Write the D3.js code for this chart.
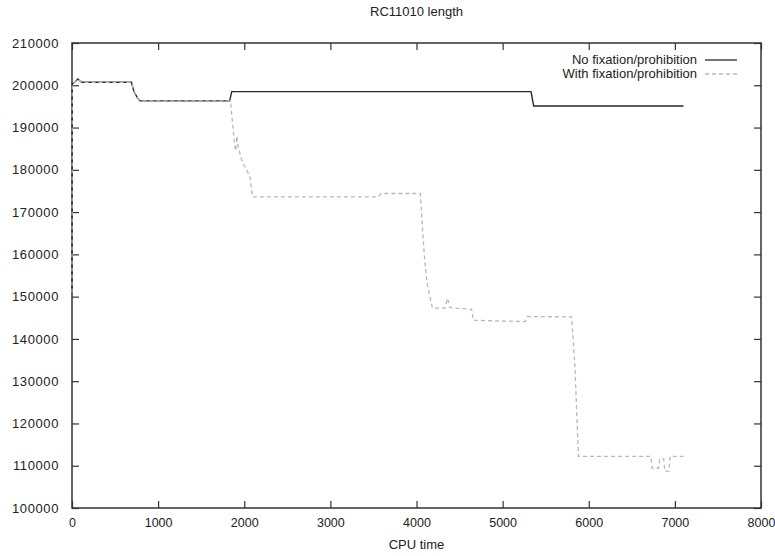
<!DOCTYPE html>
<html>
<head>
<meta charset="utf-8">
<script src="https://cdn.jsdelivr.net/npm/d3@7"></script>
<style>
  body { margin: 0; background: #fff; }
  text { font-family: "Liberation Sans", Arial, sans-serif; fill: #222; }
</style>
</head>
<body>
<div id="chart"></div>
<script>
// No fixation/prohibition
const noFixTime = [0, 3, 30, 70, 110, 690, 720, 760, 790, 1830, 1855, 5330, 5360, 7100];
const noFixLen = [151000, 200300, 200700, 201500, 200700, 200700, 198500, 197000, 196300, 196300, 198500, 198500, 195100, 195100];

// With fixation/prohibition
const withFixTime = [0, 3, 30, 70, 110, 690, 720, 760, 790, 1840, 1855, 1870, 1885, 1900, 1915, 1930, 1960, 2000, 2040, 2070, 2095,
  3555, 3590, 4045, 4070, 4090, 4120, 4150, 4185, 4330, 4360, 4390, 4640, 4660, 5260, 5290,
  5800, 5820, 5840, 5880, 6720, 6735, 6810, 6825, 6870, 6885, 6930, 6945, 7100];
const withFixLen = [151000, 200300, 200700, 201500, 200700, 200700, 198500, 197000, 196300, 196300, 193000, 190000, 186500, 184500, 188000, 185500, 183000, 181000, 179500, 178000, 173600,
  173600, 174400, 174400, 166000, 160000, 153500, 150500, 147300, 147300, 149600, 147400, 147000, 144400, 144100, 145300,
  145200, 139700, 133400, 112200, 112200, 109400, 109400, 111600, 111600, 108700, 108700, 112200, 112200];

const xTicks = [0, 1000, 2000, 3000, 4000, 5000, 6000, 7000, 8000];
const yTicks = [100000, 110000, 120000, 130000, 140000, 150000, 160000, 170000, 180000, 190000, 200000, 210000];

const legendLabels = ["No fixation/prohibition", "With fixation/prohibition"];

const W = 775, H = 556;
const margin = { top: 43, right: 14, bottom: 48, left: 72 },
  width = W - margin.left - margin.right,
  height = H - margin.top - margin.bottom;

const svg = d3.select("#chart").append("svg")
  .attr("width", W)
  .attr("height", H);

const g = svg.append("g")
  .attr("transform", `translate(${margin.left},${margin.top})`);

const x = d3.scaleLinear().domain([0, 8000]).range([0, width]);
const y = d3.scaleLinear().domain([100000, 210000]).range([height, 0]);

// axes, gnuplot style: ticks pointing inward, mirrored
const styleAxis = (sel, size, spacing) => {
  sel.select(".domain").remove();
  sel.selectAll(".tick line").attr("stroke", "#333").attr("stroke-width", 1.2);
  sel.selectAll("text").style("font-size", size).style("letter-spacing", spacing);
};

g.append("g")
  .attr("transform", `translate(0,${height})`)
  .call(d3.axisBottom(x).tickValues(xTicks).tickSizeInner(-7).tickSizeOuter(0).tickPadding(10).tickFormat(d3.format("d")))
  .call(styleAxis, "12.5px", "0px");
g.append("g")
  .call(d3.axisTop(x).tickValues(xTicks).tickSizeInner(-7).tickSizeOuter(0).tickFormat(""))
  .call(styleAxis, "12.5px", "0px");
g.append("g")
  .call(d3.axisLeft(y).tickValues(yTicks).tickSizeInner(-7).tickSizeOuter(0).tickPadding(13).tickFormat(d3.format("d")))
  .call(styleAxis, "13px", "0.6px");
g.append("g")
  .attr("transform", `translate(${width},0)`)
  .call(d3.axisRight(y).tickValues(yTicks).tickSizeInner(-7).tickSizeOuter(0).tickFormat(""))
  .call(styleAxis, "13px", "0px");

// frame
g.append("rect")
  .attr("width", width)
  .attr("height", height)
  .attr("fill", "none")
  .attr("stroke", "#333")
  .attr("stroke-width", 1.5);

const line = d3.line()
  .x(d => x(d[0]))
  .y(d => y(d[1]));

const noFix = noFixTime.map((t, i) => [t, noFixLen[i]]);
const withFix = withFixTime.map((t, i) => [t, withFixLen[i]]);

g.append("path")
  .datum(noFix)
  .attr("fill", "none")
  .attr("stroke", "#2a2a2a")
  .attr("stroke-width", 1.4)
  .attr("d", line);

g.append("path")
  .datum(withFix)
  .attr("fill", "none")
  .attr("stroke", "#b8b8b8")
  .attr("stroke-width", 1.3)
  .attr("stroke-dasharray", "4,3")
  .attr("d", line);

// title and axis label
svg.append("text")
  .attr("x", margin.left + width / 2)
  .attr("y", 16)
  .attr("text-anchor", "middle")
  .style("font-size", "13px")
  .text("RC11010 length");

svg.append("text")
  .attr("x", margin.left + width / 2)
  .attr("y", 549)
  .attr("text-anchor", "middle")
  .style("font-size", "13px")
  .text("CPU time");

// legend
const legendStyles = [
  { stroke: "#2a2a2a", dash: null },
  { stroke: "#b8b8b8", dash: "4,3" }
];
const legend = svg.append("g");
legendLabels.forEach((lab, i) => {
  const ly = 60 + i * 14;
  legend.append("text")
    .attr("x", 697)
    .attr("y", ly + 4)
    .attr("text-anchor", "end")
    .style("font-size", "13px")
    .text(lab);
  legend.append("line")
    .attr("x1", 705).attr("x2", 737)
    .attr("y1", ly).attr("y2", ly)
    .attr("stroke", legendStyles[i].stroke)
    .attr("stroke-width", 1.3)
    .attr("stroke-dasharray", legendStyles[i].dash);
});
</script>
</body>
</html>
